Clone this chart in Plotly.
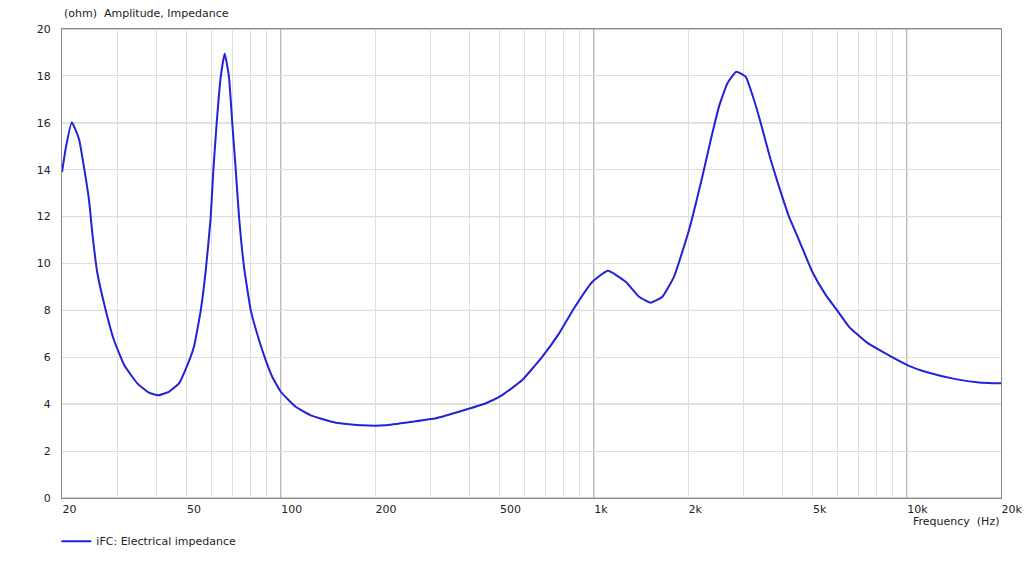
import plotly.graph_objects as go

# Data
freq_hz = [20, 20.6, 21.5, 22.1, 22.7, 23.5, 24.4, 25.0, 25.9, 27.6,
           29.3, 31.6, 34.8, 37.9, 40.6, 43.9, 47.3, 50.3, 52.8, 55.5, 57.6, 59.7,
           60.9, 62.4, 64.3, 66.2, 68.3, 70.0, 71.8, 73.6, 76.3, 80.2, 85.2, 89.5,
           93.9, 100, 111.6, 126, 150, 182, 216, 263, 313, 380, 452, 510, 591, 685,
           775, 865, 990, 1110, 1265, 1395, 1520, 1656, 1805, 2015,
           2222, 2364, 2512, 2671, 2853, 3057, 3251, 3417, 3676, 3906, 4204, 4525,
           4990, 5508, 5998, 6539, 7391, 8354, 10040, 11776, 14330, 17016, 20000]
impedance_ohm = [13.9, 14.98, 16.02, 15.7, 15.27, 14.13, 12.7, 11.29, 9.65, 8.0,
                 6.74, 5.67, 4.89, 4.49, 4.38, 4.53, 4.89, 5.67, 6.45, 8.0, 9.72, 11.95,
                 13.99, 15.98, 17.97, 18.96, 17.97, 15.98, 13.99, 11.95, 9.86, 8.0, 6.74, 5.88,
                 5.17, 4.53, 3.89, 3.50, 3.21, 3.10, 3.10, 3.25, 3.40, 3.72, 4.04, 4.39, 5.03, 6.03,
                 7.02, 8.09, 9.22, 9.69, 9.22, 8.58, 8.33, 8.58, 9.44, 11.43,
                 13.7, 15.27, 16.69, 17.68, 18.18, 17.97, 16.97, 15.98, 14.41, 13.28, 12.0, 11.0,
                 9.65, 8.66, 7.99, 7.30, 6.67, 6.24, 5.67, 5.34, 5.07, 4.93, 4.89]

x_label_vals = [20, 50, 100, 200, 500, 1000, 2000, 5000, 10000, 20000]
x_label_text = ["20", "50", "100", "200", "500", "1k", "2k", "5k", "10k", "20k"]
x_minor_grid = [m * d for d in (10, 100, 1000) for m in range(2, 10)] + [20000]
x_major_grid = [100, 1000, 10000]
y_label_vals = list(range(0, 21, 2))
y_major_grid = list(range(0, 21, 4))

FONT = "DejaVu Sans"
TXT = "#222222"
DARK = "#a0a0a0"
LIGHT = "#dedede"

fig = go.Figure()
fig.add_trace(go.Scatter(
    x=freq_hz, y=impedance_ohm, mode="lines",
    line=dict(color="#2222d8", width=2, shape="spline", smoothing=0.4),
    name="iFC: Electrical impedance",
))

shapes = []
for v in x_major_grid:
    shapes.append(dict(type="line", xref="x", yref="paper", x0=v, x1=v, y0=0, y1=1,
                       line=dict(color=DARK, width=1), layer="between"))
for v in y_major_grid:
    shapes.append(dict(type="line", xref="paper", yref="y", x0=0, x1=1, y0=v, y1=v,
                       line=dict(color=DARK, width=1), layer="between"))

fig.update_layout(
    width=1024, height=572,
    margin=dict(l=62, r=23, t=29, b=74, autoexpand=False),
    paper_bgcolor="white", plot_bgcolor="white",
    font=dict(family=FONT, size=11, color=TXT),
    showlegend=True,
    legend=dict(x=-0.006, y=-0.092, xanchor="left", yanchor="middle",
                orientation="h", itemwidth=30, font=dict(family=FONT, size=11, color=TXT),
                bgcolor="rgba(0,0,0,0)"),
    shapes=shapes,
    annotations=[
        dict(text="(ohm)  Amplitude, Impedance", xref="paper", yref="paper",
             x=0, y=1.034, xanchor="left", yanchor="middle", showarrow=False,
             font=dict(family=FONT, size=11, color=TXT)),
        dict(text="Frequency  (Hz)", xref="paper", yref="paper",
             x=1, y=-0.051, xanchor="right", yanchor="middle", showarrow=False,
             font=dict(family=FONT, size=11, color=TXT)),
    ],
)

fig.update_xaxes(
    type="log", range=[1.30103, 4.30103], automargin=False,
    tickmode="array", tickvals=x_label_vals, ticktext=x_label_text,
    ticklabelposition="outside right", ticks="", showgrid=False,
    ticklabeloverflow="allow",
    minor=dict(tickmode="array", tickvals=x_minor_grid, showgrid=True,
               gridcolor=LIGHT, gridwidth=1, ticks=""),
    showline=True, linecolor="#888888", linewidth=1, mirror=True,
    zeroline=False, ticklabelstandoff=1,
    tickfont=dict(family=FONT, size=11, color=TXT),
)
fig.update_yaxes(
    range=[0, 20], tickmode="array", tickvals=y_label_vals, automargin=False,
    ticks="", showgrid=True, gridcolor=LIGHT, gridwidth=1,
    showline=True, linecolor="#888888", linewidth=1, mirror=True,
    zeroline=False, ticklabelstandoff=8,
    tickfont=dict(family=FONT, size=11, color=TXT),
)

fig.write_html(
    "out.html",
    config={"displayModeBar": False},
    post_script="document.body.style.margin='0';document.body.style.overflow='hidden';",
)
